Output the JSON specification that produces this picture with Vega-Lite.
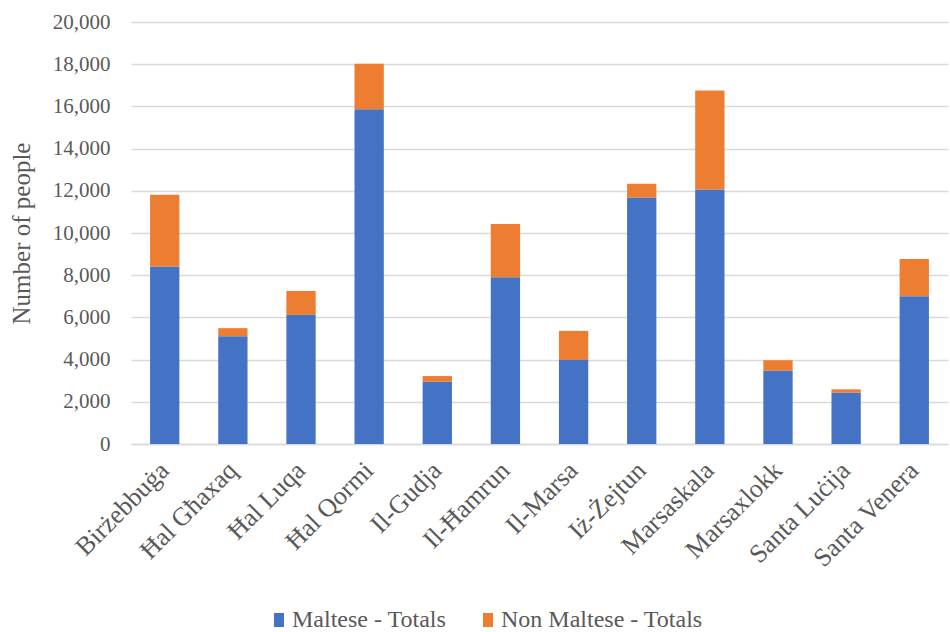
{
  "$schema": "https://vega.github.io/schema/vega-lite/v6.json",
  "width": 817,
  "height": 422,
  "autosize": "none",
  "padding": {"left": 131, "top": 22, "right": 2, "bottom": 188},
  "background": "#ffffff",
  "data": {
    "values": [
      {"locality": "Birżebbuġa", "group": "Maltese - Totals", "people": 8410},
      {"locality": "Birżebbuġa", "group": "Non Maltese - Totals", "people": 3400},
      {"locality": "Ħal Għaxaq", "group": "Maltese - Totals", "people": 5110},
      {"locality": "Ħal Għaxaq", "group": "Non Maltese - Totals", "people": 380},
      {"locality": "Ħal Luqa", "group": "Maltese - Totals", "people": 6120},
      {"locality": "Ħal Luqa", "group": "Non Maltese - Totals", "people": 1130},
      {"locality": "Ħal Qormi", "group": "Maltese - Totals", "people": 15870},
      {"locality": "Ħal Qormi", "group": "Non Maltese - Totals", "people": 2150},
      {"locality": "Il-Gudja", "group": "Maltese - Totals", "people": 2950},
      {"locality": "Il-Gudja", "group": "Non Maltese - Totals", "people": 270},
      {"locality": "Il-Ħamrun", "group": "Maltese - Totals", "people": 7900},
      {"locality": "Il-Ħamrun", "group": "Non Maltese - Totals", "people": 2530},
      {"locality": "Il-Marsa", "group": "Maltese - Totals", "people": 3980},
      {"locality": "Il-Marsa", "group": "Non Maltese - Totals", "people": 1380},
      {"locality": "Iż-Żejtun", "group": "Maltese - Totals", "people": 11680},
      {"locality": "Iż-Żejtun", "group": "Non Maltese - Totals", "people": 650},
      {"locality": "Marsaskala", "group": "Maltese - Totals", "people": 12060},
      {"locality": "Marsaskala", "group": "Non Maltese - Totals", "people": 4690},
      {"locality": "Marsaxlokk", "group": "Maltese - Totals", "people": 3480},
      {"locality": "Marsaxlokk", "group": "Non Maltese - Totals", "people": 490},
      {"locality": "Santa Luċija", "group": "Maltese - Totals", "people": 2430},
      {"locality": "Santa Luċija", "group": "Non Maltese - Totals", "people": 160},
      {"locality": "Santa Venera", "group": "Maltese - Totals", "people": 7000},
      {"locality": "Santa Venera", "group": "Non Maltese - Totals", "people": 1770}
    ]
  },
  "mark": {"type": "bar"},
  "encoding": {
    "x": {
      "field": "locality",
      "type": "nominal",
      "sort": null,
      "title": null,
      "scale": {"paddingInner": 0.57, "paddingOuter": 0.28},
      "axis": {
        "labelAngle": -45,
        "labelAlign": "right",
        "labelBaseline": "middle",
        "labelFontSize": 26,
        "labelColor": "#595959",
        "labelPadding": 22,
        "labelLimit": 0,
        "ticks": false,
        "domainColor": "#d9d9d9",
        "domainWidth": 1.5
      }
    },
    "y": {
      "field": "people",
      "type": "quantitative",
      "aggregate": "sum",
      "stack": "zero",
      "title": "Number of people",
      "scale": {"domain": [0, 20000], "nice": false},
      "axis": {
        "values": [0, 2000, 4000, 6000, 8000, 10000, 12000, 14000, 16000, 18000, 20000],
        "format": ",d",
        "domain": false,
        "ticks": false,
        "gridColor": "#d9d9d9",
        "gridWidth": 1.5,
        "labelFontSize": 21,
        "labelColor": "#595959",
        "labelPadding": 21,
        "titleFontSize": 25,
        "titleFontWeight": "normal",
        "titleColor": "#595959",
        "titlePadding": 18
      }
    },
    "color": {
      "field": "group",
      "type": "nominal",
      "title": null,
      "scale": {"domain": ["Maltese - Totals", "Non Maltese - Totals"], "range": ["#4472C4", "#ED7D31"]},
      "legend": {
        "orient": "none",
        "direction": "horizontal",
        "legendX": 136,
        "legendY": 586,
        "columns": 2,
        "symbolType": "M-1,-1.4H1V1.4H-1Z",
        "symbolSize": 100,
        "symbolStrokeWidth": 0,
        "labelFontSize": 24,
        "labelColor": "#595959",
        "labelOffset": 1,
        "labelLimit": 0,
        "columnPadding": 29
      }
    },
    "order": {"field": "group", "sort": "ascending"}
  },
  "config": {"view": {"stroke": null}, "font": "Liberation Serif, DejaVu Serif, serif"}
}
